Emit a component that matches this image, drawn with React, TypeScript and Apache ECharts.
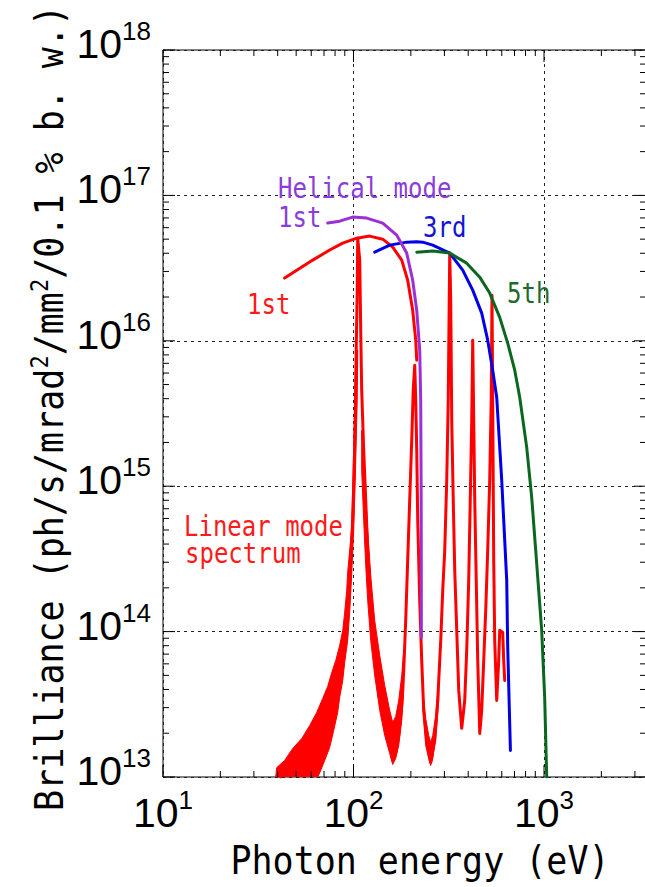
import React, { useEffect, useRef } from 'react';
import * as echarts from 'echarts';

// ---- axis ranges / ticks ----
const X_MIN = 10;
const X_MAX = 3430;
const Y_MIN = 1e13;
const Y_MAX = 1e18;
const X_MAJOR = [10, 100, 1000];
const Y_MAJOR = [1e13, 1e14, 1e15, 1e16, 1e17, 1e18];
const X_DECADES = [10, 100, 1000];
const Y_DECADES = [1e13, 1e14, 1e15, 1e16, 1e17];
const MINOR_MULT = [2, 3, 4, 5, 6, 7, 8, 9];

// ---- data: [photon energy (eV), brilliance] ----
const LINEAR_SPECTRUM: [number, number][] = [
  [41.5, 1.0e13], [49.1, 1.3e13], [58.9, 1.78e13], [68.1, 2.65e13], [76.9, 3.94e13],
  [84.6, 6.34e13], [91.0, 1.1e14], [95.5, 2.25e14], [99.0, 5.83e14], [100.8, 1.29e15],
  [102.1, 2.84e15], [103.3, 8.62e15], [104.6, 2.23e16], [105.2, 5.08e16], [107.8, 3.59e16],
  [109.1, 1.18e16], [110.4, 4.57e15], [113.1, 1.77e15], [115.9, 8.0e14], [118.7, 3.62e14],
  [123.1, 1.64e14], [129.2, 8.04e13], [137.3, 4.61e13], [147.6, 2.65e13], [156.8, 1.65e13],
  [160.6, 1.3e13], [166.5, 1.47e13], [172.7, 1.93e13], [179.1, 3.1e13], [183.5, 5.41e13],
  [187.9, 1.19e14], [192.5, 3.09e14], [197.2, 8.0e14], [202.1, 2.07e15], [205.8, 4.57e15],
  [209.6, 6.8e15], [212.1, 3.9e15], [214.7, 1.77e15], [217.3, 5.83e14], [222.6, 1.64e14],
  [228.0, 6.34e13], [233.6, 2.87e13], [242.3, 1.65e13], [254.2, 1.26e13], [266.9, 1.78e13],
  [276.7, 3.36e13], [287.0, 8.7e13], [294.0, 1.92e14], [301.2, 3.62e14], [308.6, 1.1e15],
  [314.2, 3.9e15], [318.0, 1.9e16], [319.9, 4.01e16], [323.8, 1.9e16], [327.8, 2.84e15],
  [333.8, 8.0e14], [339.9, 2.64e14], [348.2, 1.02e14], [356.7, 3.94e13], [369.8, 2.16e13],
  [383.5, 3.36e13], [392.8, 7.42e13], [402.4, 2.25e14], [410.0, 8.0e14], [417.4, 2.84e15],
  [422.5, 1.01e16], [427.6, 2.84e15], [432.9, 8.0e14], [440.8, 2.25e14], [448.8, 6.34e13],
  [459.8, 1.99e13], [470.9, 2.87e13], [482.5, 6.34e13], [494.3, 1.4e14], [506.3, 3.62e14],
  [518.7, 1.1e15], [528.2, 3.9e15], [533.3, 2.06e16], [537.8, 3.9e15], [544.4, 3.09e14],
  [551.1, 8.7e13], [564.5, 3.36e13], [578.3, 6.34e13], [585.4, 1.02e14], [606.9, 9.87e13],
  [614.3, 6.34e13], [621.8, 4.61e13],
];

// fringe bands of the linear spectrum (outline: upper edge, then lower edge back)
const LEFT_FLANK_BAND: [number, number][] = [
  [39.05, 1.0e13], [39.5, 1.16e13], [43.5, 1.3e13], [47.96, 1.57e13], [53.5, 1.84e13],
  [58.9, 2.26e13], [64.1, 2.78e13], [68.9, 3.47e13], [73.2, 4.2e13], [76.9, 5.24e13],
  [80.7, 6.34e13], [84.6, 8.04e13], [87.8, 1.02e14], [89.9, 1.36e14], [92.1, 1.92e14],
  [93.2, 2.56e14], [95.5, 3.62e14], [97.8, 5.13e14], [99.0, 9.37e14], [100.2, 1.85e15],
  [101.5, 3.9e15], [102.7, 8.62e15],
  [105.2, 8.62e15], [104.6, 3.9e15], [103.3, 2.07e15], [102.1, 1.1e15], [100.2, 4.97e14],
  [97.8, 2.44e14], [95.5, 1.36e14], [93.2, 8.7e13], [89.9, 6.14e13], [87.8, 4.61e13],
  [84.6, 3.53e13], [82.6, 2.78e13], [78.7, 2.09e13], [75.0, 1.6e13], [70.6, 1.3e13],
  [66.5, 1.07e13], [64.9, 1.0e13],
];
const RIGHT_FLANK_BAND: [number, number][] = [
  [110.4, 2.42e15], [113.1, 1.51e15], [115.9, 8.66e14], [118.7, 4.97e14], [123.1, 2.44e14],
  [129.2, 1.19e14], [137.3, 6.86e13], [145.8, 4.26e13], [154.9, 2.87e13], [160.6, 2.37e13],
  [166.5, 2.61e13], [172.7, 3.36e13], [179.1, 4.99e13], [183.5, 7.42e13],
  [183.5, 3.94e13], [179.1, 2.45e13], [172.7, 1.65e13], [166.5, 1.34e13], [160.6, 1.22e13],
  [154.9, 1.45e13], [145.8, 1.93e13], [137.3, 2.87e13], [129.2, 4.99e13], [123.1, 8.7e13],
  [118.7, 1.64e14], [115.9, 2.85e14], [113.1, 5.83e14], [110.4, 1.29e15],
];
const TROUGH2_BAND: [number, number][] = [
  [230.8, 3.94e13], [239.3, 2.53e13], [248.2, 1.93e13], [254.2, 1.73e13], [260.5, 1.93e13],
  [270.1, 2.65e13], [280.1, 4.61e13],
  [280.1, 3.36e13], [270.1, 1.87e13], [260.5, 1.34e13], [254.2, 1.2e13], [248.2, 1.34e13],
  [239.3, 1.78e13], [230.8, 3.1e13],
];

const LINEAR_1ST: [number, number][] = [
  [43.5, 2.7e16], [61.1, 3.59e16], [75.0, 4.21e16], [87.8, 4.7e16], [103.9, 5.08e16],
  [121.6, 5.25e16], [142.3, 5.0e16], [160.6, 4.41e16], [179.1, 3.59e16], [192.5, 2.61e16],
  [204.5, 1.62e16], [212.1, 1.01e16], [214.7, 7.36e15],
];
const HELICAL_1ST: [number, number][] = [
  [73.2, 6.45e16], [84.6, 6.65e16], [99.0, 7.09e16], [117.3, 6.98e16], [142.3, 6.45e16],
  [168.6, 5.33e16], [190.2, 4.01e16], [204.5, 2.61e16], [214.7, 1.62e16], [222.6, 8.62e15],
  [225.3, 3.9e15], [226.6, 8.0e14], [227.1, 9.12e13],
];
const HARMONIC_3RD: [number, number][] = [
  [129.2, 4.07e16], [154.9, 4.55e16], [190.2, 4.77e16], [214.7, 4.8e16], [230.8, 4.77e16],
  [260.4, 4.55e16], [319.9, 4.01e16], [374.3, 3.06e16], [422.3, 2.23e16], [470.9, 1.55e16],
  [506.3, 1.01e16], [537.8, 6.28e15], [564.5, 4.09e15], [599.7, 1.1e15], [637.1, 2.25e14],
  [644.8, 7.79e13], [666.2, 1.52e13],
];
const HARMONIC_5TH: [number, number][] = [
  [214.7, 4.07e16], [260.5, 4.14e16], [319.9, 4.01e16], [392.8, 3.42e16], [459.8, 2.74e16],
  [518.7, 2.13e16], [585.4, 1.45e16], [644.8, 9.63e15], [701.8, 6.28e15], [745.4, 4.09e15],
  [811.2, 1.85e15], [861.6, 8.39e14], [915.2, 2.95e14], [972.3, 1.02e14], [1008, 3.53e13],
  [1033, 1.0e13],
];

const BANDS = [LEFT_FLANK_BAND, RIGHT_FLANK_BAND, TROUGH2_BAND];

const RED = '#ff0000';
const PURPLE = '#9b30d6';
const BLUE = '#0000e6';
const GREEN = '#0b671f';
const NUMFONT = "'Liberation Sans', Arial, sans-serif";
const MONO = "'DejaVu Sans Mono', 'Liberation Mono', monospace";

function buildOption(): any {
  const xTicks: number[][] = [];
  X_MAJOR.forEach((v) => xTicks.push([v, Y_MIN, 12]));
  X_DECADES.forEach((d) => MINOR_MULT.forEach((m) => {
    if (m * d < X_MAX) xTicks.push([m * d, Y_MIN, 6]);
  }));
  const yTicks: number[][] = [];
  Y_MAJOR.forEach((v) => yTicks.push([X_MIN, v, 12]));
  Y_DECADES.forEach((d) => MINOR_MULT.forEach((m) => yTicks.push([X_MIN, m * d, 6])));

  const powLabel = (v: number) => {
    const e = Math.log10(v);
    const r = Math.round(e);
    if (Math.abs(e - r) > 0.01) return '';
    return `{b|10}{s|${r}}`;
  };
  const labelRich = {
    b: { fontSize: 41, fontFamily: NUMFONT, color: '#000' },
    s: { fontSize: 26, fontFamily: NUMFONT, color: '#000', padding: [0, 0, 26, 0] },
  };
  const lineSeries = (name: string, data: [number, number][], color: string, width: number) => ({
    type: 'line', name, data, showSymbol: false, symbol: 'none',
    lineStyle: { color, width, join: 'round', cap: 'round' }, z: 3,
  });

  const textEl = (text: string, x: number, y: number, color: string) => ({
    type: 'text', x, y, scaleY: 1.15, z: 100,
    style: { text, fill: color, fontSize: 24, fontFamily: MONO, align: 'left', verticalAlign: 'middle' },
  });

  return {
    animation: false,
    backgroundColor: '#fff',
    grid: {
      left: 163, top: 50, width: 483, height: 727, show: true,
      borderColor: '#000', borderWidth: 1, backgroundColor: 'transparent',
      containLabel: false, outerBoundsMode: 'none',
    },
    xAxis: {
      type: 'log', logBase: 10, min: X_MIN, max: X_MAX,
      axisLine: { show: false }, axisTick: { show: false },
      axisLabel: { formatter: powLabel, rich: labelRich, margin: 10 },
      splitLine: { show: true, lineStyle: { color: '#222', width: 1, type: [3, 4] } },
    },
    yAxis: {
      type: 'log', logBase: 10, min: Y_MIN, max: Y_MAX,
      axisLine: { show: false }, axisTick: { show: false },
      axisLabel: { formatter: powLabel, rich: labelRich, margin: 12, padding: [0, 0, 12, 0] },
      splitLine: { show: true, lineStyle: { color: '#222', width: 1, type: [3, 4] } },
    },
    series: [
      {
        type: 'custom', name: 'fringes', clip: true, z: 2,
        data: BANDS.map((b, i) => [b[0][0], b[0][1], i]),
        encode: { x: 0, y: 1 },
        renderItem: (_p: any, api: any) => {
          const band = BANDS[api.value(2)];
          const pts = band.map((pt) => api.coord(pt));
          return { type: 'polygon', shape: { points: pts }, style: { fill: RED, stroke: RED, lineWidth: 1 } };
        },
      },
      lineSeries('Linear mode spectrum', LINEAR_SPECTRUM, RED, 3),
      lineSeries('Linear 1st', LINEAR_1ST, RED, 3),
      lineSeries('3rd', HARMONIC_3RD, BLUE, 3),
      lineSeries('5th', HARMONIC_5TH, GREEN, 3),
      lineSeries('Helical 1st', HELICAL_1ST, PURPLE, 3),
      {
        type: 'custom', name: 'xticks', clip: false, z: 10, silent: true,
        data: xTicks, encode: { x: 0, y: 1 },
        renderItem: (_p: any, api: any) => {
          const v = api.value(0);
          const len = api.value(2);
          const b = api.coord([v, Y_MIN]);
          const t = api.coord([v, Y_MAX]);
          return {
            type: 'group', children: [
              { type: 'line', shape: { x1: b[0], y1: b[1], x2: b[0], y2: b[1] - len }, style: { stroke: '#000', lineWidth: 1 } },
              { type: 'line', shape: { x1: t[0], y1: t[1], x2: t[0], y2: t[1] + len }, style: { stroke: '#000', lineWidth: 1 } },
            ],
          };
        },
      },
      {
        type: 'custom', name: 'yticks', clip: false, z: 10, silent: true,
        data: yTicks, encode: { x: 0, y: 1 },
        renderItem: (_p: any, api: any) => {
          const v = api.value(1);
          const len = api.value(2);
          const l = api.coord([X_MIN, v]);
          const r = api.coord([X_MAX, v]);
          return {
            type: 'group', children: [
              { type: 'line', shape: { x1: l[0], y1: l[1], x2: l[0] + len, y2: l[1] }, style: { stroke: '#000', lineWidth: 1 } },
              { type: 'line', shape: { x1: r[0], y1: r[1], x2: r[0] - len, y2: r[1] }, style: { stroke: '#000', lineWidth: 1 } },
            ],
          };
        },
      },
    ],
    graphic: [
      {
        type: 'text', x: 50, y: 408, rotation: Math.PI / 2, scaleY: 1.12, z: 100,
        style: {
          text: '{a|Brilliance (ph/s/mrad}{s|2}{a|/mm}{s|2}{a|/0.1 % b. w.)}',
          align: 'center', verticalAlign: 'middle', fill: '#000',
          rich: {
            a: { fontSize: 35, fontFamily: MONO, fill: '#000' },
            s: { fontSize: 22, fontFamily: MONO, fill: '#000', padding: [0, 0, 18, 0] },
          },
        },
      },
      {
        type: 'text', x: 420, y: 861, scaleY: 1.12, z: 100,
        style: { text: 'Photon energy (eV)', fill: '#000', fontSize: 35, fontFamily: MONO, align: 'center', verticalAlign: 'middle' },
      },
      textEl('Helical mode', 278, 188, '#8a3ddb'),
      textEl('1st', 278, 217, '#8a3ddb'),
      textEl('3rd', 423, 227, '#1414d2'),
      textEl('5th', 507, 293, '#1c6b2c'),
      textEl('1st', 247, 304, '#ff1a1a'),
      textEl('Linear mode', 184, 526, '#ff1a1a'),
      textEl('spectrum', 185, 553, '#ff1a1a'),
    ],
  };
}

export default function App() {
  const ref = useRef<HTMLDivElement>(null);
  useEffect(() => {
    if (!ref.current) return;
    const chart = echarts.init(ref.current, null, { renderer: 'svg' });
    chart.setOption(buildOption());
    return () => chart.dispose();
  }, []);
  return (
    <div
      ref={ref}
      style={{ position: 'absolute', left: 0, top: 0, width: 645, height: 887, background: '#fff' }}
    />
  );
}
